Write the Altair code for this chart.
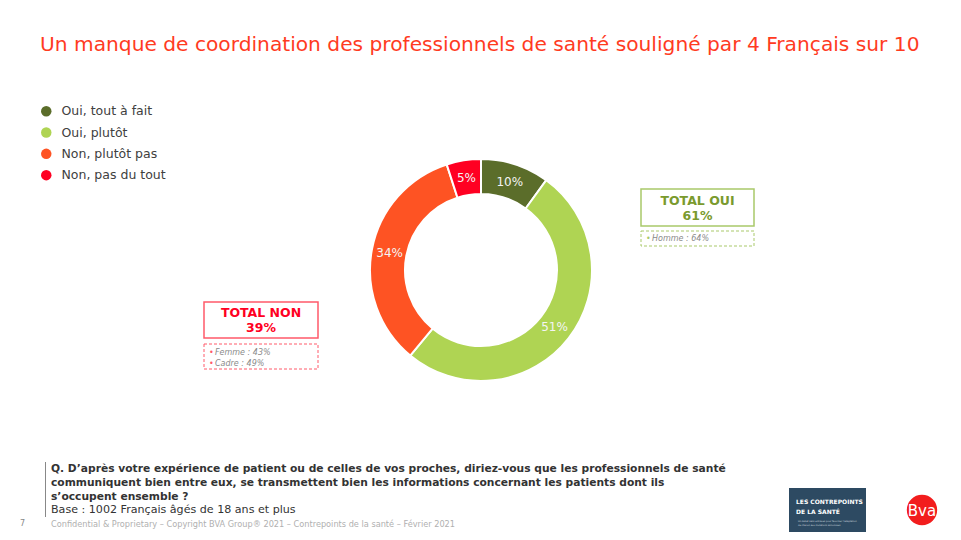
import altair as alt
import pandas as pd

# ---- data ----
categories = ["Oui, tout à fait", "Oui, plutôt", "Non, plutôt pas", "Non, pas du tout"]
values = [10, 51, 34, 5]
labels = ["10%", "51%", "34%", "5%"]
colors = ["#5b6d2a", "#afd453", "#fe5323", "#ff0022"]

title_text = "Un manque de coordination des professionnels de santé souligné par 4 Français sur 10"
question_lines = [
    "Q. D\u2019après votre expérience de patient ou de celles de vos proches, diriez-vous que les professionnels de santé",
    "communiquent bien entre eux, se transmettent bien les informations concernant les patients dont ils",
    "s\u2019occupent ensemble ?",
]
base_text = "Base : 1002 Français âgés de 18 ans et plus"
footer_text = "Confidential & Proprietary \u2013 Copyright BVA Group® 2021 \u2013 Contrepoints de la santé \u2013 Février 2021"
total_oui = ["TOTAL OUI", "61%"]
oui_notes = ["Homme : 64%"]
total_non = ["TOTAL NON", "39%"]
non_notes = ["Femme : 43%", "Cadre : 49%"]

df = pd.DataFrame({"cat": categories, "value": values, "label": labels, "order": list(range(len(categories)))})

FONT = "DejaVu Sans"
CX, CY = 481 - 8, 270 - 8  # donut centre in plot coords
R_OUT, R_IN = 111, 76

color_scale = alt.Scale(domain=categories, range=colors)

donut = alt.Chart(df).mark_arc(outerRadius=R_OUT, innerRadius=R_IN, stroke="white", strokeWidth=2).encode(
    theta=alt.Theta("value:Q", stack=True),
    order=alt.Order("order:Q"),
    color=alt.Color("cat:N", scale=color_scale, sort=categories,
                    legend=alt.Legend(title=None, orient="none", legendX=32, legendY=97,
                                      symbolType="circle", symbolSize=110, symbolStrokeWidth=0,
                                      labelFontSize=12.5, labelFont=FONT, labelColor="#404040",
                                      rowPadding=8.3, labelOffset=9)),
    x=alt.value(CX), y=alt.value(CY),
)

arc_text = alt.Chart(df).mark_text(radius=93, font=FONT, fontSize=12, color="#f4f4f4").encode(
    theta=alt.Theta("value:Q", stack=True),
    order=alt.Order("order:Q"),
    text="label:N",
    x=alt.value(CX), y=alt.value(CY),
)


def txt(x, y, s, **kw):
    kw.setdefault("font", FONT)
    kw.setdefault("align", "left")
    kw.setdefault("baseline", "middle")
    return alt.Chart(pd.DataFrame({"s": [s]})).mark_text(**kw).encode(
        x=alt.value(x - 8), y=alt.value(y - 8), text="s:N")


def box(x1, y1, x2, y2, **kw):
    return alt.Chart(pd.DataFrame({"a": [0]})).mark_rect(**kw).encode(
        x=alt.value(x1 - 8), x2=alt.value(x2 - 8), y=alt.value(y1 - 8), y2=alt.value(y2 - 8))


layers = [donut, arc_text]

# title
layers.append(txt(40, 45, title_text, fontSize=20.2, color="#ff3b1f"))

# TOTAL OUI box
layers.append(box(641, 189, 754, 226, fill="white", stroke="#a9c96a", strokeWidth=1.5))
layers.append(txt(697.5, 201, total_oui[0], align="center", fontSize=12.5, fontWeight="bold", color="#7a9a2e"))
layers.append(txt(697.5, 216, total_oui[1], align="center", fontSize=12.5, fontWeight="bold", color="#7a9a2e"))
layers.append(box(641, 231, 754, 246, fill="white", stroke="#a9c96a", strokeWidth=1, strokeDash=[3, 2]))
layers.append(txt(646, 239, "•", fontSize=8, color="#a9c96a"))
layers.append(txt(652, 239, oui_notes[0], fontSize=8, fontStyle="italic", color="#8a8a8a"))

# TOTAL NON box
layers.append(box(204, 302, 318, 338, fill="white", stroke="#ff5a6a", strokeWidth=1.5))
layers.append(txt(261, 313, total_non[0], align="center", fontSize=12.5, fontWeight="bold", color="#ff0022"))
layers.append(txt(261, 328, total_non[1], align="center", fontSize=12.5, fontWeight="bold", color="#ff0022"))
layers.append(box(204, 344, 318, 369, fill="white", stroke="#ff5a6a", strokeWidth=1, strokeDash=[3, 2]))
for i, n in enumerate(non_notes):
    yy = 353 + i * 11
    layers.append(txt(209, yy, "•", fontSize=8, color="#ff5a6a"))
    layers.append(txt(215, yy, n, fontSize=8, fontStyle="italic", color="#8a8a8a"))

# question block
layers.append(box(45, 462, 46, 517, fill="#888888"))
for i, line in enumerate(question_lines):
    layers.append(txt(51, 469 + i * 14, line, fontSize=10.7, fontWeight="bold", color="#333333"))
layers.append(txt(51, 510, base_text, fontSize=11.1, color="#333333"))
layers.append(txt(51, 525, footer_text, fontSize=8.2, color="#b0b0b0"))
layers.append(txt(20, 524, "7", fontSize=8, color="#888888"))

# logos
layers.append(box(789, 488, 866, 532, fill="#2d4a62"))
layers.append(txt(796, 502, "LES CONTREPOINTS", fontSize=6.0, fontWeight="bold", color="white"))
layers.append(txt(796, 512, "DE LA SANTÉ", fontSize=6.0, fontWeight="bold", color="white"))
layers.append(txt(798, 521, "Un débat sans entraves pour favoriser l'adaptation", fontSize=2.3, color="#c8d3dc"))
layers.append(txt(798, 525, "de chacun aux mutations annoncées", fontSize=2.3, color="#c8d3dc"))
layers.append(alt.Chart(pd.DataFrame({"a": [0]})).mark_circle(size=920, color="#f21d1d", opacity=1).encode(
    x=alt.value(922 - 8), y=alt.value(510 - 8)))
layers.append(txt(922, 511, "Bva", align="center", fontSize=15, color="white"))

chart = alt.layer(*layers).properties(
    width=945, height=524, padding=0, autosize=alt.AutoSizeParams(type="none")
).configure(background="white").configure_view(stroke=None)

chart.save("out.html", embed_options={"renderer": "svg", "actions": False})
